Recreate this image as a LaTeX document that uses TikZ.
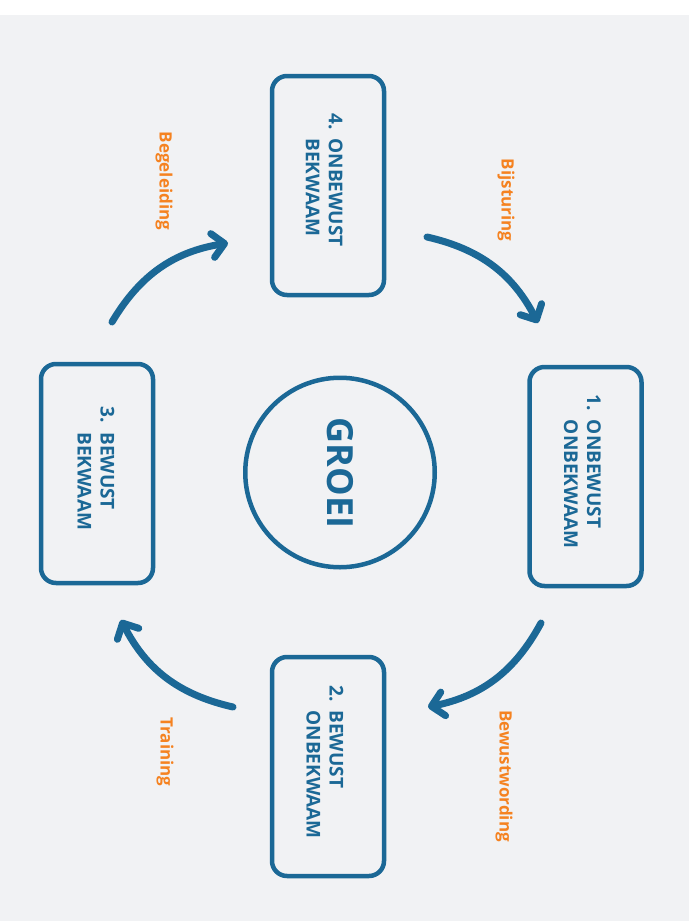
\documentclass[tikz,border=0pt]{standalone}
\usepackage{fontspec}
\setmainfont{Open Sans}
\usetikzlibrary{arrows.meta}
\definecolor{bg}{HTML}{F1F2F4}
\definecolor{blu}{HTML}{1B6896}
\definecolor{org}{HTML}{F58220}
\newcommand{\stagelines}[3]{\begin{tabular}{@{}l@{\hspace{9pt}}l@{}}#1 & #2\\ & #3\end{tabular}}
\begin{document}
\begin{tikzpicture}[x=1pt,y=-1pt,
  stage/.style={draw=blu, line width=4.5pt, rounded corners=15pt, fill=bg,
    minimum width=112pt, minimum height=219pt, inner sep=0pt, outer sep=0pt},
  stagetext/.style={rotate=-90, text=blu, font=\bfseries\fontsize{19}{23}\selectfont,
    inner sep=0pt, align=left},
  lbl/.style={rotate=-90, text=org, font=\bfseries\fontsize{17}{20}\selectfont, inner sep=0pt},
  flow/.style={draw=blu, line width=7pt, line cap=round,
    -{Straight Barb[round, length=12pt, width=24pt]}, bend left=25}
]
\useasboundingbox (0,0) rectangle (692,921);
\fill[white] (0,0) rectangle (692,921);
\fill[bg] (0,15) rectangle (689,921);

% stages
\node[stage] (s4) at (328,185.5) {};
\node[stage] (s1) at (585.5,476.5) {};
\node[stage] (s2) at (328,766.5) {};
\node[stage] (s3) at (97,473.5) {};

\node[stagetext] (t4) at (322,180) {\stagelines{4.}{ONBEWUST}{BEKWAAM}};
\node[stagetext] (t1) at (580.3,471.5) {\stagelines{1.}{ONBEWUST}{ONBEKWAAM}};
\node[stagetext] (t2) at (322.8,762) {\stagelines{2.}{BEWUST}{ONBEKWAAM}};
\node[stagetext] (t3) at (93.8,468.5) {\stagelines{3.}{BEWUST}{BEKWAAM}};

% centre
\node[draw=blu, line width=4.5pt, circle, minimum size=189.5pt, inner sep=0pt] (c) at (340,472.5) {};
\node[rotate=-90, text=blu, font=\bfseries\fontsize{36}{36}\selectfont, inner sep=0pt] (g) at (340,473) {GROEI};

% arrows
\coordinate (a4s) at (427,237);
\coordinate (a4e) at (538,323);
\coordinate (a1s) at (541,623);
\coordinate (a1e) at (428,707);
\coordinate (a2s) at (233,707);
\coordinate (a2e) at (121,620);
\coordinate (a3s) at (112,322);
\coordinate (a3e) at (228,243);
\draw[flow] (a4s) to (a4e);
\draw[flow] (a1s) to (a1e);
\draw[flow] (a2s) to (a2e);
\draw[flow] (a3s) to (a3e);

% labels
\node[lbl] (l3) at (164,181) {Begeleiding};
\node[lbl] (l4) at (506,200) {Bijsturing};
\node[lbl] (l1) at (504,776) {Bewustwording};
\node[lbl] (l2) at (165,752) {Training};
\end{tikzpicture}
\end{document}
